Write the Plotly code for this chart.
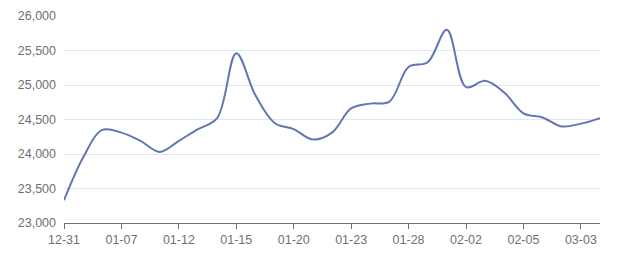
import plotly.graph_objects as go

# Series values (one per data point, evenly spaced on the category axis)
prices = [23330, 23950, 24350, 24310, 24190, 24030, 24190, 24360, 24520, 25460,
          24850, 24450, 24360, 24210, 24310, 24660, 24730, 24760, 25260, 25330,
          25800, 24970, 25060, 24890, 24590, 24530, 24400, 24440, 24520]

# Visible category labels (every third point)
tick_labels = ["12-31", "01-07", "01-12", "01-15", "01-20", "01-23",
               "01-28", "02-02", "02-05", "03-03"]
label_step = 3

x_idx = list(range(len(prices)))
tick_pos = x_idx[::label_step][:len(tick_labels)]

fig = go.Figure()
fig.add_trace(go.Scatter(
    x=x_idx, y=prices, mode="lines",
    line=dict(color="#6176b3", width=2, shape="spline", smoothing=1.0),
    hoverinfo="skip",
))

axis_font = dict(family="Liberation Sans, Arial, sans-serif", size=12.5, color="#6e7079")

fig.update_layout(
    width=640, height=270,
    margin=dict(l=64, r=40, t=9, b=47),
    paper_bgcolor="white", plot_bgcolor="white",
    showlegend=False,
    xaxis=dict(
        range=[0, len(prices) - 1],
        tickmode="array", tickvals=tick_pos, ticktext=tick_labels,
        showgrid=False, zeroline=False,
        showline=True, linecolor="#6e7079", linewidth=1,
        ticks="outside", ticklen=5, tickcolor="#6e7079",
        tickfont=axis_font,
    ),
    yaxis=dict(
        range=[23000, 26000], dtick=500, tick0=23000,
        tickformat=",",
        showgrid=True, gridcolor="#e0e6f1", gridwidth=1,
        zeroline=False, showline=False, ticks="",
        ticklabelstandoff=7,
        tickfont=axis_font,
    ),
)

fig.write_html("out.html")
